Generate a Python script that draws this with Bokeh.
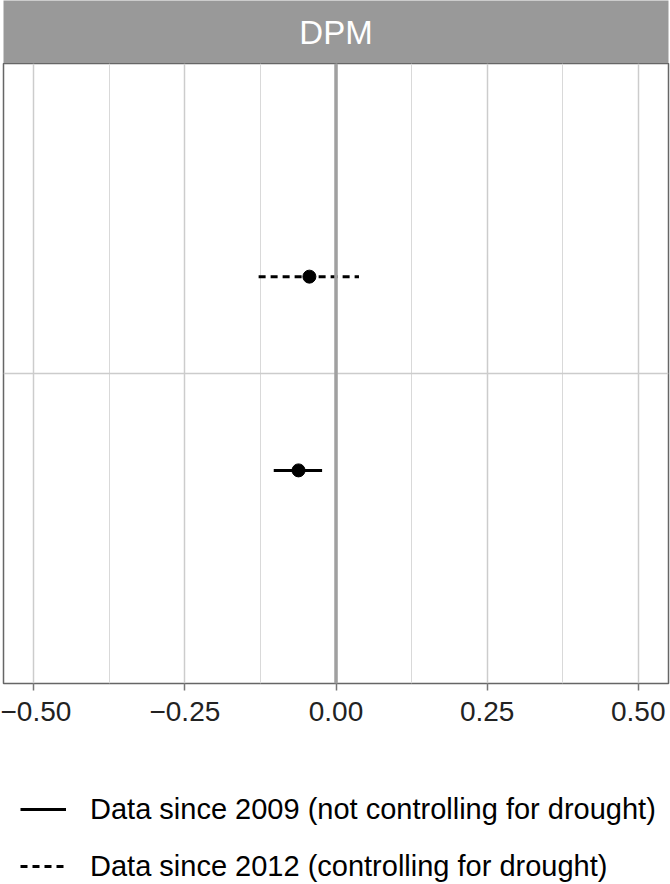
from bokeh.plotting import figure
from bokeh.layouts import column
from bokeh.models import Range1d, FixedTicker, Span, Legend, LegendItem, ColumnDataSource
from bokeh.core.properties import value
from bokeh.embed import file_html
from bokeh.resources import INLINE

# ---- data ----
facet = "DPM"
series = ["Data since 2009 (not controlling for drought)",
          "Data since 2012 (controlling for drought)"]
estimate = [-0.062, -0.044]
lower = [-0.103, -0.128]
upper = [-0.023, 0.038]
series_dash = ["solid", "7 5"]
category_pos = 1.0
dodge_width = 0.75
x_ticks = [-0.50, -0.25, 0.00, 0.25, 0.50]
x_minor = [-0.375, -0.125, 0.125, 0.375]
x_tick_labels = ["\u22120.50", "\u22120.25", "0.00", "0.25", "0.50"]

FONT = "Liberation Sans"
W = 670

# ---- facet strip ----
strip = figure(width=W, height=63, x_range=Range1d(0, 1), y_range=Range1d(0, 1),
               toolbar_location=None, output_backend="svg",
               min_border_left=3, min_border_right=2, min_border_top=0, min_border_bottom=0)
strip.axis.visible = False
strip.grid.visible = False
strip.background_fill_color = "#999999"
strip.border_fill_color = "white"
strip.outline_line_color = None
strip.text(x=[0.5], y=[0.5], text=[facet], text_align="center", text_baseline="middle",
           text_color="white", text_font=value(FONT), text_font_size="33px")

# ---- main panel ----
p = figure(width=W, height=680, x_range=Range1d(-0.55, 0.55), y_range=Range1d(0.4, 1.6),
           toolbar_location=None, output_backend="svg",
           min_border_left=3, min_border_right=2, min_border_top=0, min_border_bottom=60)
p.yaxis.visible = False
p.background_fill_color = "white"
p.border_fill_color = "white"
p.outline_line_color = "#666666"
p.outline_line_width = 1.5

p.xaxis.ticker = FixedTicker(ticks=x_ticks, minor_ticks=x_minor)
p.xaxis.major_label_overrides = {t: l for t, l in zip(x_ticks, x_tick_labels)}
p.xaxis.major_label_text_font = FONT
p.xaxis.major_label_text_font_size = "28px"
p.xaxis.major_label_text_color = "#222222"
p.xaxis.major_label_standoff = 11
p.xaxis.major_tick_out = 7
p.xaxis.major_tick_in = 0
p.xaxis.major_tick_line_color = "#777777"
p.xaxis.major_tick_line_width = 1.5
p.xaxis.minor_tick_out = 0
p.xaxis.minor_tick_in = 0
p.xaxis.axis_line_color = None

p.xgrid.ticker = FixedTicker(ticks=x_ticks, minor_ticks=x_minor)
p.xgrid.grid_line_color = "#cccccc"
p.xgrid.grid_line_width = 1.5
p.xgrid.minor_grid_line_color = "#d9d9d9"
p.xgrid.minor_grid_line_width = 1
p.ygrid.ticker = FixedTicker(ticks=[category_pos])
p.ygrid.grid_line_color = "#cccccc"
p.ygrid.grid_line_width = 1.5

p.add_layout(Span(location=0, dimension="height", line_color="#a0a0a0", line_width=3.5))

# ---- legend area ----
lg = figure(width=W, height=141, x_range=Range1d(0, 1), y_range=Range1d(0, 1),
            toolbar_location=None, output_backend="svg",
            min_border_left=3, min_border_right=2, min_border_top=49, min_border_bottom=0)
lg.axis.visible = False
lg.grid.visible = False
lg.outline_line_color = None
lg.background_fill_color = "white"
lg.border_fill_color = "white"

legend_renderers = []
n = len(series)
for i in range(n):
    y = category_pos + (i - (n - 1) / 2) * dodge_width / n
    src = ColumnDataSource(dict(est=[estimate[i]], lo=[lower[i]], hi=[upper[i]], y=[y]))
    p.segment(x0="lo", x1="hi", y0="y", y1="y", source=src,
              line_color="black", line_width=3, line_dash=series_dash[i])
    p.scatter(x="est", y="y", source=src, size=13, color="black")
    key = lg.segment(x0="lo", x1="hi", y0="y", y1="y", source=src,
                     line_color="black", line_width=3, line_dash=series_dash[i])
    key.visible = False
    legend_renderers.append(key)

legend = Legend(items=[LegendItem(label=series[i], renderers=[legend_renderers[i]]) for i in range(n)],
                location=(17, 1), margin=0, padding=0, spacing=23,
                glyph_width=46, glyph_height=34, label_height=34, label_standoff=24,
                label_text_font=FONT, label_text_font_size="29px", label_text_color="black",
                border_line_color=None, background_fill_alpha=0)
lg.add_layout(legend)

layout = column(strip, p, lg, spacing=0)
open("out.html", "w").write(file_html(layout, INLINE))
